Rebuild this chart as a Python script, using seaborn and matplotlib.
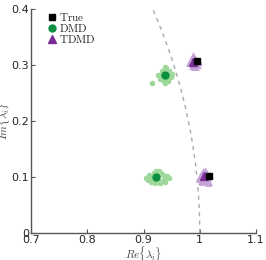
import numpy as np
import pandas as pd
import matplotlib
matplotlib.use('Agg')
import matplotlib.pyplot as plt
import seaborn as sns

# eigenvalues
true_re = [1.016, 0.995]
true_im = [0.101, 0.307]

dmd_mean_re = [0.923, 0.939]
dmd_mean_im = [0.100, 0.283]
tdmd_mean_re = [1.008, 0.988]
tdmd_mean_im = [0.102, 0.306]

# scatter clouds of individual runs
dmd_cloud_re = [0.905, 0.910, 0.914, 0.918, 0.922, 0.927, 0.931, 0.936, 0.941, 0.945,
                0.912, 0.917, 0.925, 0.930, 0.935, 0.920, 0.928, 0.908, 0.938, 0.924,
                0.926, 0.933, 0.940, 0.945, 0.948, 0.930, 0.936, 0.944, 0.950, 0.938,
                0.942, 0.934, 0.946, 0.939, 0.915]
dmd_cloud_im = [0.098, 0.104, 0.092, 0.108, 0.111, 0.093, 0.107, 0.095, 0.101, 0.099,
                0.100, 0.097, 0.104, 0.090, 0.103, 0.089, 0.110, 0.095, 0.092, 0.106,
                0.283, 0.290, 0.294, 0.285, 0.279, 0.276, 0.272, 0.271, 0.284, 0.296,
                0.278, 0.283, 0.289, 0.268, 0.268]

tdmd_cloud_re = [0.998, 1.002, 1.006, 1.010, 1.014, 1.018, 1.004, 1.012, 1.000, 1.008,
                 1.016, 1.010, 1.003, 1.014,
                 0.980, 0.984, 0.988, 0.992, 0.996, 0.998, 0.986, 0.990, 0.994, 0.982,
                 0.988, 0.992]
tdmd_cloud_im = [0.097, 0.105, 0.111, 0.093, 0.099, 0.104, 0.091, 0.108, 0.101, 0.096,
                 0.092, 0.112, 0.093, 0.090,
                 0.303, 0.311, 0.316, 0.309, 0.300, 0.306, 0.298, 0.296, 0.297, 0.307,
                 0.318, 0.313]

plt.rcParams['mathtext.fontset'] = 'cm'
sns.set_style('ticks')
plt.rcParams['font.family'] = ['DejaVu Sans']

fig = plt.figure(figsize=(2.66, 2.6), dpi=100)
ax = fig.add_axes([0.1165, 0.1038, 0.846, 0.861])

# unit circle
theta = np.linspace(0, np.arcsin(0.4), 200)
ax.plot(np.cos(theta), np.sin(theta), ls=(0, (3, 3)), color='#aaaaaa', lw=1.0, zorder=1)

df_dmd = pd.DataFrame({'re': dmd_cloud_re, 'im': dmd_cloud_im})
df_tdmd = pd.DataFrame({'re': tdmd_cloud_re, 'im': tdmd_cloud_im})
sns.scatterplot(data=df_dmd, x='re', y='im', color='#9ed89a', s=16, linewidth=0,
                ax=ax, zorder=2)
sns.scatterplot(data=df_tdmd, x='re', y='im', color='#c6a3d6', marker='^', s=24,
                linewidth=0, ax=ax, zorder=2)

ax.plot(true_re, true_im, 's', color='black', ms=4.5, zorder=4, label=r'$\mathrm{True}$')
ax.plot(dmd_mean_re, dmd_mean_im, 'o', color='#0a9040', ms=5, zorder=4,
        label=r'$\mathrm{DMD}$')
ax.plot(tdmd_mean_re, tdmd_mean_im, '^', color='#7a2d96', ms=5.5, zorder=3,
        label=r'$\mathrm{TDMD}$')

ax.set_xlim(0.7, 1.1)
ax.set_ylim(0, 0.4)
ax.set_xticks([0.7, 0.8, 0.9, 1.0, 1.1])
ax.set_xticklabels(['0.7', '0.8', '0.9', '1', '1.1'])
ax.set_yticks([0, 0.1, 0.2, 0.3, 0.4])
ax.set_yticklabels(['0', '0.1', '0.2', '0.3', '0.4'])
ax.tick_params(direction='in', length=3, width=0.8, color='#555555',
               labelsize=8, pad=1.5)
ax.set_xlabel(r'$Re\{\lambda_i\}$', fontsize=8, labelpad=-0.5, color='#444444')
ax.set_ylabel(r'$Im\{\lambda_i\}$', fontsize=8, labelpad=-0.5, color='#444444')
sns.despine(ax=ax)
for sp in ['left', 'bottom']:
    ax.spines[sp].set_color('#555555')
    ax.spines[sp].set_linewidth(1.0)

ax.legend(loc='upper left', frameon=False, fontsize=8, handlelength=0.6,
          handletextpad=0.3, labelspacing=-0.1, borderaxespad=0.2,
          bbox_to_anchor=(0.05, 1.02))

fig.savefig('out.png', dpi=100)
